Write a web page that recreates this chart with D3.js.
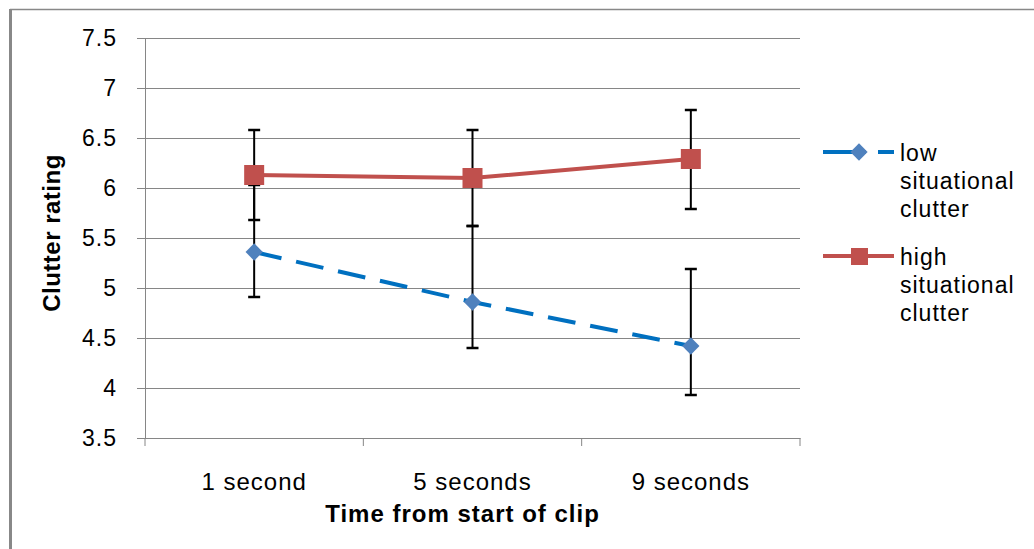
<!DOCTYPE html>
<html>
<head>
<meta charset="utf-8">
<script src="https://cdn.jsdelivr.net/npm/d3@7"></script>
<style>
  body { margin: 0; background: #fff; overflow: hidden; }
  svg { display: block; }
</style>
</head>
<body>
<svg></svg>
<script>
const categories = ['1 second', '5 seconds', '9 seconds'];
const yTicks = [3.5, 4, 4.5, 5, 5.5, 6, 6.5, 7, 7.5];

const lowValues = [5.36, 4.86, 4.42];
const lowUpper = [6.03, 5.62, 5.19];
const lowLower = [4.91, 4.40, 3.93];

const highValues = [6.13, 6.10, 6.29];
const highUpper = [6.58, 6.58, 6.78];
const highLower = [5.68, 5.62, 5.79];

const seriesNames = [['low', 'situational', 'clutter'], ['high', 'situational', 'clutter']];

const width = 1034;
const height = 549;
const margin = { top: 38, right: 234, bottom: 111, left: 145 };
const innerWidth = width - margin.left - margin.right;
const innerHeight = height - margin.top - margin.bottom;

const font = '"Liberation Sans", Arial, sans-serif';
const blueLine = '#0070c0';
const blueMarker = '#4f81bd';
const red = '#c0504d';
const grid = '#868686';

const svg = d3.select('svg')
  .attr('width', width)
  .attr('height', height)
  .attr('viewBox', `0 0 ${width} ${height}`)
  .attr('font-family', font);

// outer frame
svg.append('line')
  .attr('x1', 10).attr('x2', width).attr('y1', 9.5).attr('y2', 9.5)
  .attr('stroke', '#888').attr('stroke-width', 1.5);
svg.append('line')
  .attr('x1', 10.5).attr('x2', 10.5).attr('y1', 9).attr('y2', height)
  .attr('stroke', '#888').attr('stroke-width', 3);

const g = svg.append('g')
  .attr('transform', `translate(${margin.left},${margin.top})`);

const xScale = d3.scaleBand()
  .domain(categories)
  .range([0, innerWidth]);

const yScale = d3.scaleLinear()
  .domain([3.5, 7.5])
  .range([innerHeight, 0]);

const yAxis = d3.axisLeft(yScale)
  .tickValues(yTicks)
  .tickFormat(d3.format('~g'))
  .tickSize(-innerWidth)
  .tickPadding(20);

const yAxisGroup = g.append('g').call(yAxis)
  .attr('font-family', font)
  .attr('font-size', 23);
yAxisGroup.select('.domain').attr('stroke', grid);
yAxisGroup.selectAll('.tick line').attr('stroke', grid).attr('x1', -8);
yAxisGroup.selectAll('.tick text')
  .attr('x', -28)
  .attr('fill', '#000')
  .attr('letter-spacing', 1);

const xAxisGroup = g.append('g')
  .attr('transform', `translate(0,${innerHeight})`)
  .call(d3.axisBottom(xScale).tickSize(0).tickPadding(35))
  .attr('font-family', font)
  .attr('font-size', 24);
xAxisGroup.select('.domain').attr('stroke', grid);
xAxisGroup.selectAll('.tick text')
  .attr('fill', '#000')
  .attr('letter-spacing', 1);

// category boundary ticks
xAxisGroup.selectAll('.boundary')
  .data([0, ...categories.map(c => xScale(c) + xScale.bandwidth())])
  .join('line')
  .attr('x1', d => d).attr('x2', d => d)
  .attr('y1', 0).attr('y2', 8)
  .attr('stroke', grid);

svg.append('text')
  .attr('x', margin.left + innerWidth / 2 - 10)
  .attr('y', 522)
  .attr('text-anchor', 'middle')
  .attr('font-size', 24)
  .attr('font-weight', 'bold')
  .attr('letter-spacing', 1)
  .text('Time from start of clip');

svg.append('text')
  .attr('transform', 'translate(60,233) rotate(-90)')
  .attr('text-anchor', 'middle')
  .attr('font-size', 24)
  .attr('font-weight', 'bold')
  .attr('letter-spacing', 0.5)
  .text('Clutter rating');

const cx = d => xScale(d) + xScale.bandwidth() / 2;

const lowData = categories.map((c, i) => ({ c, v: lowValues[i], hi: lowUpper[i], lo: lowLower[i] }));
const highData = categories.map((c, i) => ({ c, v: highValues[i], hi: highUpper[i], lo: highLower[i] }));

const line = d3.line()
  .x(d => cx(d.c))
  .y(d => yScale(d.v));

// error bars
[lowData, highData].forEach(data => {
  const eb = g.append('g').attr('stroke', '#000').attr('stroke-width', 2);
  eb.selectAll('.v').data(data).join('line')
    .attr('x1', d => cx(d.c)).attr('x2', d => cx(d.c))
    .attr('y1', d => yScale(d.hi)).attr('y2', d => yScale(d.lo));
  eb.selectAll('.cap').data(data.flatMap(d => [[d.c, d.hi], [d.c, d.lo]])).join('line')
    .attr('x1', d => cx(d[0]) - 6).attr('x2', d => cx(d[0]) + 6)
    .attr('y1', d => yScale(d[1])).attr('y2', d => yScale(d[1]))
    .attr('stroke-width', 2.5);
});

g.append('path')
  .datum(lowData)
  .attr('d', line)
  .attr('fill', 'none')
  .attr('stroke', blueLine)
  .attr('stroke-width', 4)
  .attr('stroke-dasharray', '28,15');

g.append('path')
  .datum(highData)
  .attr('d', line)
  .attr('fill', 'none')
  .attr('stroke', red)
  .attr('stroke-width', 4);

const diamond = d3.symbol().type(d3.symbolDiamond2).size(190);

g.selectAll('.low-marker').data(lowData).join('path')
  .attr('transform', d => `translate(${cx(d.c)},${yScale(d.v)})`)
  .attr('d', diamond)
  .attr('fill', blueMarker);

g.selectAll('.high-marker').data(highData).join('rect')
  .attr('x', d => cx(d.c) - 10)
  .attr('y', d => yScale(d.v) - 10)
  .attr('width', 20).attr('height', 20)
  .attr('fill', red);

// legend
const legend = svg.append('g');
const legendRows = [
  { y: 152, names: seriesNames[0], color: blueLine, type: 'low' },
  { y: 256, names: seriesNames[1], color: red, type: 'high' }
];
legendRows.forEach(r => {
  const lg = legend.append('g').attr('transform', `translate(0,${r.y})`);
  if (r.type === 'low') {
    lg.append('line').attr('x1', 823).attr('x2', 866).attr('stroke', r.color).attr('stroke-width', 4);
    lg.append('line').attr('x1', 878).attr('x2', 894).attr('stroke', r.color).attr('stroke-width', 4);
    lg.append('path').attr('transform', 'translate(859,0)').attr('d', diamond).attr('fill', blueMarker);
  } else {
    lg.append('line').attr('x1', 823).attr('x2', 894).attr('stroke', r.color).attr('stroke-width', 4);
    lg.append('rect').attr('x', 851).attr('y', -8).attr('width', 17).attr('height', 17).attr('fill', red);
  }
  lg.selectAll('text').data(r.names).join('text')
    .attr('x', 900)
    .attr('y', (d, i) => 9 + i * 28)
    .attr('font-size', 23)
    .attr('letter-spacing', 1)
    .text(d => d);
});
</script>
</body>
</html>
